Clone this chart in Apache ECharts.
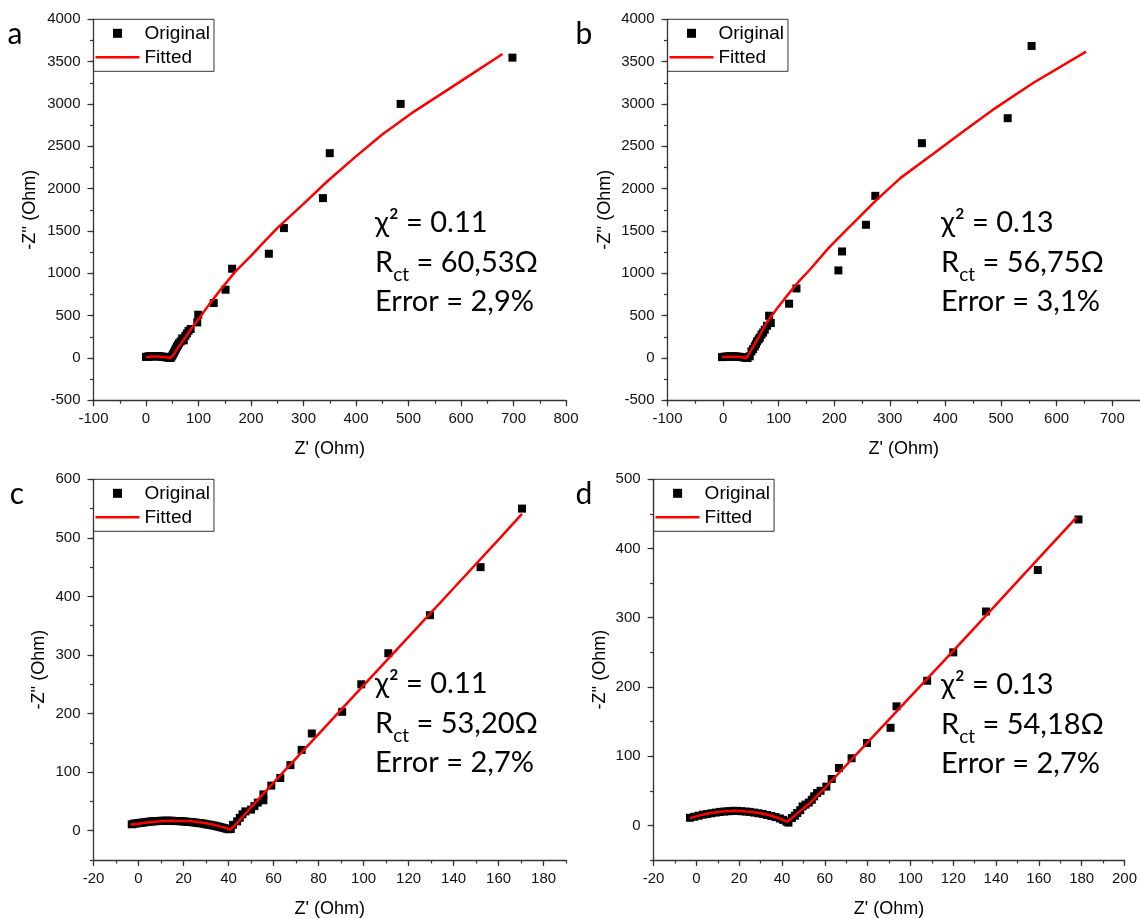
<!DOCTYPE html>
<html>
<head>
<meta charset="utf-8">
<script src="https://cdn.jsdelivr.net/npm/echarts@6/dist/echarts.min.js"></script>
<style>
html,body{margin:0;padding:0;background:#fff;}
#chart{width:1140px;height:919px;}
</style>
</head>
<body>
<div id="chart"></div>
<script>
// ---------------- DATA ----------------
const panelLetters = ['a', 'b', 'c', 'd'];
const legendNames = ['Original', 'Fitted'];
const xAxisName = "Z' (Ohm)";
const yAxisName = "-Z'' (Ohm)";

// Panel a
const aOriginal = [
  [0,12],[2,14],[4,16],[6,18],[8,19],[10,20],[13,21],[16,21],[19,21],[22,20],[25,19],[28,17],[31,15],[34,13],[37,10],[40,7],[43,4],[45,2],[47,0],
  [49,18],[51,40],[53,62],[55,88],[57,112],[59,135],[61,152],[63,175],[66,195],[69,232],[72,208],[75,262],[78,290],[81,320],[85,342],
  [97.6,420],[99.5,511],[129,649],[151.5,806],[164,1054],[234,1231],[262.7,1534],[337,1888],[350,2419],[485,3001],[698,3547]
];
const aFitted = [
  [0,12],[10,16],[20,17],[30,14],[40,8],[46.7,0],[53,39],[60,110],[72,216],[88,360],[104,491],[120,630],[142,806],[170,1020],
  [199,1199],[225,1370],[250,1534],[300,1820],[345,2084],[396,2360],[450,2640],[510.5,2910],[600,3270],[679,3591]
];

// Panel b
const bOriginal = [
  [-2,10],[0,12],[3,14],[6,16],[9,17],[12,18],[15,18],[18,18],[21,17],[24,16],[27,15],[30,13],[33,11],[36,8],[39,5],[42,2],[44,0],
  [48,20],[51,78],[54,105],[57,137],[59,165],[61,196],[64,220],[66,240],[69,275],[72,300],[75,334],[79,380],
  [82.8,499],[85.8,413],[118.7,641],[132,821],[207.4,1034],[214,1258],[257,1573],[273.8,1915],[357.6,2537],[512,2832],[555,3685]
];
const bFitted = [
  [-2,12],[10,15],[20,15],[30,12],[38,6],[42,0],[51,98],[60,200],[78,413],[96,575],[114,727],[135,895],[156,1042],[190,1300],
  [222,1514],[276,1868],[320,2130],[377,2405],[430,2665],[485,2930],[557,3245],[653,3618]
];

// Panel c
const cOriginal = [
  [-3,11],[-2,12],[-1,12.5],[0,13],[1,13.5],[2,14],[3,14.5],[4,15],[5,15.5],[6,16],[7,16],[8,16.5],[9,16.5],[10,17],[11,17],[12,17],
  [13,17],[14,17],[15,17],[16,16.5],[17,16.5],[18,16.5],[19,16],[20,16],[21,15.5],[22,15],[23,15],[24,14.5],[25,14],[26,13.5],
  [27,13],[28,12.5],[29,12],[30,11],[31,10.5],[32,10],[33,9],[34,8.5],[35,7.5],[36,6.5],[37,5.5],[38,4.5],[39,3.5],[40,2.5],[41,3],
  [42,10],[43.8,16],[45,22],[46.2,28],[47.5,33],[50,36],[51.5,42],[53,48],[55.5,52],[55.5,62],[59,77],[63,90],[67.5,112],
  [72.5,138],[77,166],[90.5,203],[99,250],[111,303],[129.5,368],[152,450],[170.4,550]
];
const cFitted = [
  [-3.6,10],[0,12],[5.5,14.8],[10,16.3],[14.4,17],[19,16.8],[23.3,16],[28,14],[32,11.4],[35,8.7],[38,5.7],[40.7,2],
  [42.5,8],[44.7,17],[50,40],[60,82],[80,165],[100,248],[120,331],[140,414],[160,497],[170.4,541]
];

// Panel d
const dOriginal = [
  [-3,11],[-1,12.5],[1,14],[3,15.5],[5,16.5],[7,17.5],[9,18.5],[11,19.5],[13,20],[15,20.5],[17,21],[19,21],[21,20.5],[23,20],
  [25,19.5],[27,18.5],[29,17.5],[31,16.5],[33,15],[35,13.5],[37,12],[39,10],[40.5,8],[42,5.5],[43,4],
  [44.6,10.6],[46,14],[47.1,17.9],[48.5,22],[49.6,27.4],[51,30],[52.5,33],[53.9,37],[55,42],[56.4,46.7],[58,50],
  [60.7,56],[63.2,67],[66.6,83],[72.5,97],[79.7,119],[90.7,141],[93.5,172],[107.8,209],[120,250],[135.3,309],[159.5,369],[178.5,442]
];
const dFitted = [
  [-3,10.5],[0,13],[3,15.5],[6,17.5],[10,19.5],[14,20.5],[18,21],[22,20.5],[26,19.5],[30,17.5],[34,15],[38,11],[40.5,8],[42.2,5.5],
  [44,9],[47,17],[53,32],[60,54],[80,120],[100,186],[120,252],[140,319],[160,386],[177.6,445]
];

// Axis ranges [min, max] and tick labels
const xRanges = [[-100, 800], [-100, 750], [-20, 190], [-20, 200]];
const yRanges = [[-500, 4000], [-500, 4000], [-50, 600], [-50, 500]];
const xTickLabels = [
  [-100, 0, 100, 200, 300, 400, 500, 600, 700, 800],
  [-100, 0, 100, 200, 300, 400, 500, 600, 700],
  [-20, 0, 20, 40, 60, 80, 100, 120, 140, 160, 180],
  [-20, 0, 20, 40, 60, 80, 100, 120, 140, 160, 180, 200]
];
const yTickLabels = [
  [-500, 0, 500, 1000, 1500, 2000, 2500, 3000, 3500, 4000],
  [-500, 0, 500, 1000, 1500, 2000, 2500, 3000, 3500, 4000],
  [0, 100, 200, 300, 400, 500, 600],
  [0, 100, 200, 300, 400, 500]
];
const xMinorStep = [50, 50, 10, 10];
const yMinorStep = [250, 250, 50, 50];

// Annotations
const chiTexts = ['χ² = 0.11', 'χ² = 0.13', 'χ² = 0.11', 'χ² = 0.13'];
const rctValues = ['60,53Ω', '56,75Ω', '53,20Ω', '54,18Ω'];
const errTexts = ['Error = 2,9%', 'Error = 3,1%', 'Error = 2,7%', 'Error = 2,7%'];

const originals = [aOriginal, bOriginal, cOriginal, dOriginal];
const fitteds = [aFitted, bFitted, cFitted, dFitted];

// ---------------- LAYOUT ----------------
const grids = [
  {left: 93.5, top: 19.3, width: 472.5, height: 381},
  {left: 667.5, top: 19.3, width: 473.4, height: 381},
  {left: 93.5, top: 479.3, width: 472.6, height: 381},
  {left: 653.6, top: 479.3, width: 472, height: 381}
];
const yNameGaps = [54, 53, 45, 44.6];
const annoPos = [[375, 223], [941, 223], [375, 684], [941, 685]];
const letterPos = [[15, 34], [584, 34], [17, 494], [584, 494]];
const lineSpacing = 39.5;

const axisColor = '#333';
const labelFont = '"Liberation Sans", Arial, sans-serif';
const annoFont = 'Lato, "Open Sans", sans-serif';
const plain = v => String(v);

function mainAxis(i, isX) {
  const r = isX ? xRanges[i] : yRanges[i];
  const majors = isX ? xTickLabels[i] : yTickLabels[i];
  const step = isX ? xMinorStep[i] : yMinorStep[i];
  return {
    type: 'value', gridIndex: i, min: r[0], max: r[1], interval: step,
    position: isX ? 'bottom' : 'left',
    name: isX ? xAxisName : yAxisName, nameLocation: 'middle',
    nameGap: isX ? 40 : yNameGaps[i],
    nameTextStyle: {fontSize: 18, fontFamily: labelFont, color: '#000'},
    axisLine: {show: true, onZero: false, lineStyle: {color: axisColor, width: 1.3}},
    axisTick: {show: true, inside: false, length: 6, customValues: majors, lineStyle: {color: axisColor, width: 1.2}},
    minorTick: {show: false},
    splitLine: {show: false}, minorSplitLine: {show: false},
    axisLabel: {fontSize: 15, fontFamily: labelFont, color: '#111', margin: isX ? 11 : 13,
      customValues: majors, formatter: plain}
  };
}
function minorAxis(i, isX) {
  const r = isX ? xRanges[i] : yRanges[i];
  const step = isX ? xMinorStep[i] : yMinorStep[i];
  return {
    type: 'value', gridIndex: i, min: r[0], max: r[1], interval: step,
    position: isX ? 'bottom' : 'left', offset: 0,
    axisLine: {show: false, onZero: false},
    axisTick: {show: true, inside: false, length: 3.5, lineStyle: {color: axisColor, width: 1.2}},
    axisLabel: {show: false},
    splitLine: {show: false}, silent: true
  };
}

const xAxes = [0, 1, 2, 3].map(i => mainAxis(i, true)).concat([0, 1, 2, 3].map(i => minorAxis(i, true)));
const yAxes = [0, 1, 2, 3].map(i => mainAxis(i, false)).concat([0, 1, 2, 3].map(i => minorAxis(i, false)));

const series = [];
for (let i = 0; i < 4; i++) {
  series.push({
    type: 'scatter', name: legendNames[0], xAxisIndex: i, yAxisIndex: i,
    data: originals[i], symbol: 'rect', symbolSize: 8,
    itemStyle: {color: '#000', opacity: 1}, z: 2, silent: true
  });
  series.push({
    type: 'line', name: legendNames[1], xAxisIndex: i, yAxisIndex: i,
    data: fitteds[i], symbol: 'none', showSymbol: false,
    lineStyle: {color: '#ff0000', width: 2.5, opacity: 1}, itemStyle: {color: '#ff0000'}, z: 3, silent: true
  });
}

const squareIcon = 'path://M0,0M44,9M17.5,0h9v9h-9z';
const lineIcon = 'path://M0,0M44,9M0,3.25h44v2.5h-44z';

const legends = grids.map(g => ({
  orient: 'vertical', left: g.left, top: g.top,
  data: [
    {name: legendNames[0], icon: squareIcon, itemStyle: {color: '#000', borderWidth: 0, opacity: 1}},
    {name: legendNames[1], icon: lineIcon, itemStyle: {color: '#ff0000', borderWidth: 0, opacity: 1}}
  ],
  selectedMode: false,
  borderColor: '#333', borderWidth: 1,
  padding: [4, 4, 4, 2], itemGap: 4,
  itemWidth: 44, itemHeight: 9,
  textStyle: {fontSize: 19, fontFamily: labelFont, color: '#000', lineHeight: 20}
}));

const graphics = [];
for (let i = 0; i < 4; i++) {
  const p = annoPos[i];
  graphics.push({
    type: 'text', x: p[0], y: p[1], silent: true,
    style: {text: chiTexts[i], font: '29px ' + annoFont, fill: '#000', align: 'left', verticalAlign: 'middle'}
  });
  graphics.push({
    type: 'text', x: p[0], y: p[1] + lineSpacing, silent: true,
    style: {
      text: '{m|R}{s|ct}{m| = ' + rctValues[i] + '}',
      align: 'left', verticalAlign: 'middle', fill: '#000',
      rich: {
        m: {fontSize: 29, fontFamily: annoFont, lineHeight: 44, fill: '#000'},
        s: {fontSize: 19, fontFamily: annoFont, lineHeight: 14, verticalAlign: 'bottom', fill: '#000'}
      }
    }
  });
  graphics.push({
    type: 'text', x: p[0], y: p[1] + 2 * lineSpacing, silent: true,
    style: {text: errTexts[i], font: '29px ' + annoFont, fill: '#000', align: 'left', verticalAlign: 'middle'}
  });
  graphics.push({
    type: 'text', x: letterPos[i][0], y: letterPos[i][1], silent: true,
    style: {text: panelLetters[i], font: '30px ' + annoFont, fill: '#000', align: 'center', verticalAlign: 'middle'}
  });
}

const chart = echarts.init(document.getElementById('chart'), null, {renderer: 'canvas'});
chart.setOption({
  animation: false,
  backgroundColor: '#fff',
  grid: grids.map(g => Object.assign({containLabel: false}, g)),
  xAxis: xAxes,
  yAxis: yAxes,
  legend: legends,
  series: series,
  graphic: graphics
});
</script>
</body>
</html>
